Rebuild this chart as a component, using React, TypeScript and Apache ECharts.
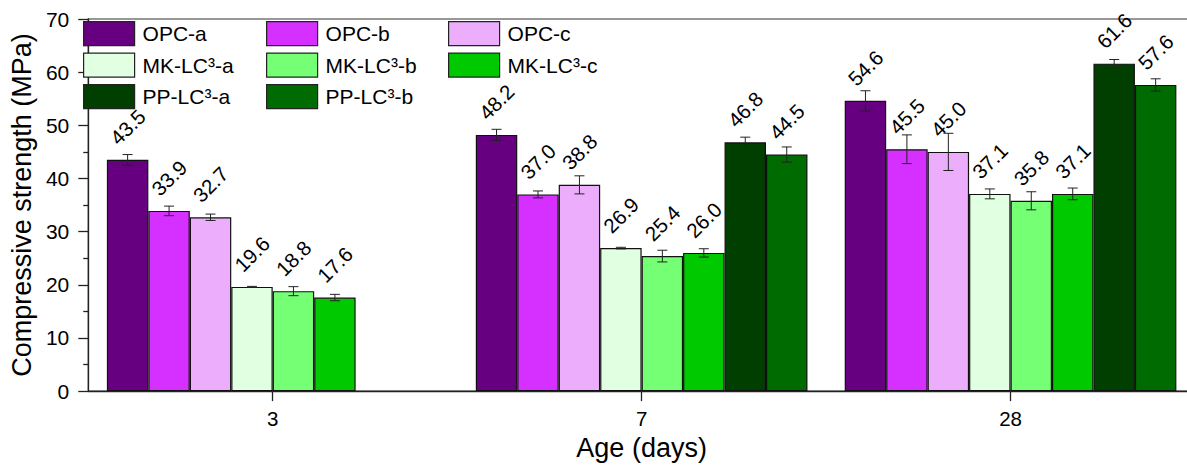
import React, { useEffect, useRef } from "react";
import * as echarts from "echarts";

const categories = ["3", "7", "28"];
const seriesNames = ["OPC-a", "OPC-b", "OPC-c", "MK-LC³-a", "MK-LC³-b", "MK-LC³-c", "PP-LC³-a", "PP-LC³-b"];
const seriesColors = ["#660080", "#D530FF", "#ECAEFC", "#E1FFE1", "#75FF75", "#00C900", "#003F00", "#006B00"];

const opcA = [43.5, 48.2, 54.6];
const opcB = [33.9, 37.0, 45.5];
const opcC = [32.7, 38.8, 45.0];
const mkA = [19.6, 26.9, 37.1];
const mkB = [18.8, 25.4, 35.8];
const mkC = [17.6, 26.0, 37.1];
const ppA = [null, 46.8, 61.6];
const ppB = [null, 44.5, 57.6];

const opcAErr = [1.0, 1.05, 1.9];
const opcBErr = [0.9, 0.65, 2.7];
const opcCErr = [0.6, 1.7, 3.5];
const mkAErr = [0.1, 0.15, 0.93];
const mkBErr = [0.85, 1.1, 1.7];
const mkCErr = [0.6, 0.78, 1.1];
const ppAErr = [null, 0.97, 0.78];
const ppBErr = [null, 1.43, 1.15];

const yTicks = [0, 10, 20, 30, 40, 50, 60, 70];

const allValues = [opcA, opcB, opcC, mkA, mkB, mkC, ppA, ppB];
const allErrors = [opcAErr, opcBErr, opcCErr, mkAErr, mkBErr, mkCErr, ppAErr, ppBErr];

const FONT = "'Liberation Sans', Arial, Helvetica, sans-serif";
const CATEGORY_GAP = 0.101;

const legendPos = [
  [83, 21], [266, 21], [448, 21],
  [83, 52.5], [266, 52.5], [448, 52.5],
  [83, 84], [266, 84],
];

export default function App() {
  const ref = useRef<HTMLDivElement>(null);

  useEffect(() => {
    if (!ref.current) return;
    const chart = echarts.init(ref.current, undefined, { renderer: "svg" });

    const barSeries = seriesNames.map((name, i) => ({
      name,
      type: "bar",
      data: allValues[i].map((v) => (v == null ? "-" : v)),
      barGap: "0%",
      barCategoryGap: CATEGORY_GAP * 100 + "%",
      itemStyle: { color: seriesColors[i], borderColor: "#111", borderWidth: 1.2 },
      label: {
        show: true,
        position: "top",
        distance: 33,
        rotate: 45,
        align: "center",
        verticalAlign: "middle",
        fontSize: 20.5,
        fontFamily: FONT,
        color: "#000",
        formatter: (p: any) => Number(p.value).toFixed(1),
      },
      z: 2,
    }));

    const errData: any[] = [];
    allValues.forEach((vals, si) => {
      vals.forEach((v, ci) => {
        const e = allErrors[si][ci];
        if (v != null && e != null) errData.push([ci, si, v, e]);
      });
    });

    const errSeries = {
      type: "custom",
      name: "err",
      data: errData,
      encode: { x: 0, y: 2 },
      z: 5,
      silent: true,
      renderItem: (params: any, api: any) => {
        const cat = api.value(0);
        const si = api.value(1);
        const v = api.value(2);
        const e = api.value(3);
        const bandW = api.size([1, 0])[0];
        const barW = (bandW * (1 - CATEGORY_GAP)) / 8;
        const cx = api.coord([cat, 0])[0] + (si - 3.5) * barW;
        const yT = api.coord([cat, v + e])[1];
        const yB = api.coord([cat, v - e])[1];
        const half = 5;
        const style = { stroke: "#222", lineWidth: 1 };
        return {
          type: "group",
          children: [
            { type: "line", shape: { x1: cx, y1: yT, x2: cx, y2: yB }, style },
            { type: "line", shape: { x1: cx - half, y1: yT, x2: cx + half, y2: yT }, style },
            { type: "line", shape: { x1: cx - half, y1: yB, x2: cx + half, y2: yB }, style },
          ],
        };
      },
    };

    const legends = seriesNames.map((name, i) => ({
      data: [name],
      left: legendPos[i][0],
      top: legendPos[i][1],
      orient: "horizontal",
      padding: 0,
      itemWidth: 51,
      itemHeight: 24,
      icon: "rect",
      selectedMode: false,
      itemStyle: { borderColor: "#222", borderWidth: 1.2 },
      textStyle: { fontSize: 21, fontFamily: FONT, color: "#000", padding: [0, 0, 0, 3] },
    }));

    chart.setOption({
      animation: false,
      backgroundColor: "#fff",
      legend: legends,
      grid: {
        left: 82,
        top: 19,
        width: 1113,
        height: 375,
        show: true,
        borderColor: "#333",
        borderWidth: 1.2,
        backgroundColor: "transparent",
      },
      xAxis: {
        type: "category",
        data: categories,
        name: "Age (days)",
        nameLocation: "middle",
        nameGap: 38,
        nameTextStyle: { fontSize: 27, fontFamily: FONT, color: "#000" },
        axisLine: { lineStyle: { color: "#222", width: 1.3 } },
        axisTick: { show: true, alignWithLabel: true, length: 10, inside: false, lineStyle: { color: "#222", width: 1.3 } },
        axisLabel: { fontSize: 20.5, fontFamily: FONT, color: "#000", margin: 17 },
      },
      yAxis: {
        type: "value",
        min: yTicks[0],
        max: yTicks[yTicks.length - 1],
        interval: 10,
        name: "Compressive strength (MPa)",
        nameLocation: "middle",
        nameGap: 48,
        nameTextStyle: { fontSize: 27, fontFamily: FONT, color: "#000" },
        axisLine: { show: true, lineStyle: { color: "#222", width: 1.3 } },
        axisTick: { show: true, length: 10, inside: false, lineStyle: { color: "#222", width: 1.3 } },
        minorTick: { show: true, splitNumber: 2, length: 5, lineStyle: { color: "#222", width: 1.3 } },
        splitLine: { show: false },
        axisLabel: { fontSize: 21, fontFamily: FONT, color: "#000", margin: 19 },
      },
      series: [...barSeries, errSeries],
    });

    return () => chart.dispose();
  }, []);

  return (
    <div style={{ position: "fixed", left: 0, top: 0, width: 1187, height: 466, overflow: "hidden", background: "#fff" }}>
      <div ref={ref} style={{ width: 1200, height: 466 }} />
    </div>
  );
}
